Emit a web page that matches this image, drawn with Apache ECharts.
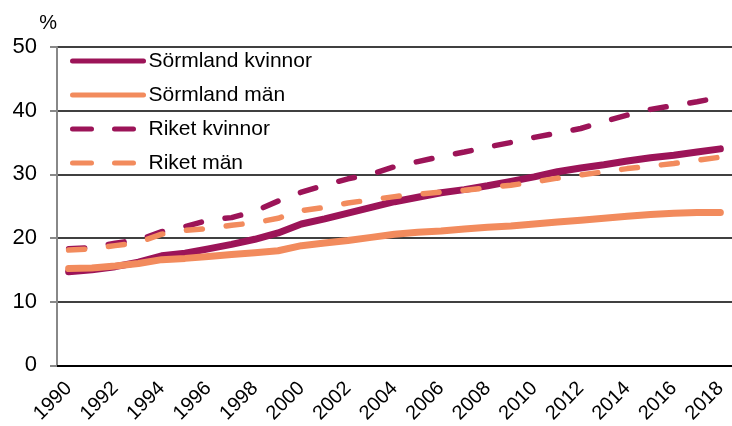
<!DOCTYPE html>
<html><head><meta charset="utf-8">
<script src="https://cdn.jsdelivr.net/npm/echarts@6/dist/echarts.min.js"></script>
<style>html,body{margin:0;padding:0;background:#fff}#c{width:732px;height:426px}</style>
</head><body><div id="c"></div>
<script>
const years = ['1990','1991','1992','1993','1994','1995','1996','1997','1998','1999','2000','2001','2002','2003','2004','2005','2006','2007','2008','2009','2010','2011','2012','2013','2014','2015','2016','2017','2018'];
const sormlandKvinnor = [14.7,15.0,15.5,16.2,17.2,17.6,18.3,19.0,19.8,20.8,22.2,23.0,23.9,24.8,25.7,26.4,27.1,27.6,28.2,28.9,29.6,30.4,31.0,31.5,32.1,32.6,33.0,33.5,34.0];
const sormlandMan = [15.2,15.3,15.6,16.0,16.6,16.8,17.1,17.4,17.7,18.0,18.8,19.2,19.6,20.1,20.6,20.9,21.1,21.4,21.7,21.9,22.2,22.5,22.8,23.1,23.4,23.7,23.9,24.0,24.0];
const riketKvinnor = [18.3,18.5,19.2,19.7,21.0,21.8,22.8,23.2,24.2,25.8,27.2,28.3,29.3,30.0,31.2,32.0,32.8,33.5,34.3,35.0,35.8,36.5,37.2,38.3,39.3,40.2,40.8,41.4,42.1];
const riketMan = [18.1,18.3,18.8,19.3,20.6,21.2,21.5,22.0,22.4,23.1,24.3,24.8,25.5,26.0,26.5,26.9,27.2,27.5,27.9,28.3,28.8,29.4,29.9,30.4,30.9,31.3,31.7,32.2,32.7];
const yTicks = {min:0, max:50, interval:10};

const PURPLE = '#9c1458', ORANGE = '#f28b5d';
const chart = echarts.init(document.getElementById('c'), null, {renderer:'canvas'});
const font = 'Liberation Sans, Arial, sans-serif';
function ser(name, data, color, dashed){
  return {name, type:'line', data, symbol:'none', smooth:false, z: dashed?3:2,
    lineStyle:{color, width: dashed?5.5:7, type: dashed?[16,24]:'solid', cap:'round', join:'round'},
    itemStyle:{color}};
}
chart.setOption({
  animation:false,
  textStyle:{fontFamily:font},
  grid:{left:57, right:0, top:47, bottom:59},
  legend:{orient:'vertical', left:70, top:50, padding:0, itemWidth:71, itemHeight:14, itemGap:12,
    itemStyle:{opacity:0},
    textStyle:{fontSize:21, lineHeight:22, color:'#000', fontFamily:font},
    data:[
      {name:'Sörmland kvinnor', lineStyle:{width:5}},
      {name:'Sörmland män', lineStyle:{width:5}},
      {name:'Riket kvinnor', lineStyle:{width:5, type:[19,23]}},
      {name:'Riket män', lineStyle:{width:5, type:[19,23]}}
    ]},
  xAxis:{type:'category', data:years, boundaryGap:true,
    axisLine:{lineStyle:{color:'#000', width:2}},
    axisTick:{interval:0, length:6, lineStyle:{color:'#000', width:2}},
    axisLabel:{interval:1, rotate:45, fontSize:20, color:'#000', margin:20, fontFamily:font}},
  yAxis:{type:'value', min:yTicks.min, max:yTicks.max, interval:yTicks.interval,
    name:'%', nameLocation:'end', nameGap:14,
    nameTextStyle:{fontSize:20, color:'#000', align:'right', fontFamily:font},
    axisLine:{show:true, lineStyle:{color:'#888', width:2}},
    axisTick:{show:true, length:7, lineStyle:{color:'#888', width:2}},
    axisLabel:{fontSize:22, color:'#000', margin:20, fontFamily:font},
    splitLine:{lineStyle:{color:'#000', width:1.5}}},
  series:[
    ser('Sörmland kvinnor', sormlandKvinnor, PURPLE, false),
    ser('Sörmland män', sormlandMan, ORANGE, false),
    ser('Riket kvinnor', riketKvinnor, PURPLE, true),
    ser('Riket män', riketMan, ORANGE, true)
  ]
});
</script></body></html>
